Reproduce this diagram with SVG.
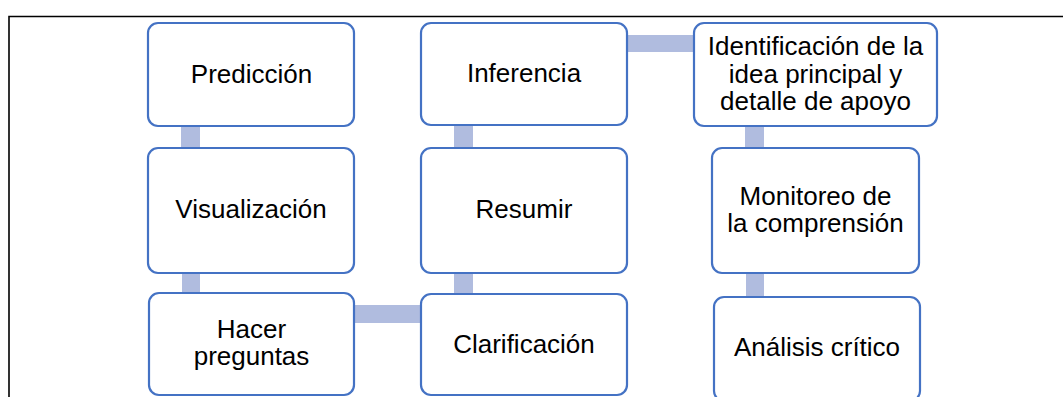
<svg xmlns="http://www.w3.org/2000/svg" width="1063" height="397" viewBox="0 0 1063 397">
<style>
.box{fill:#fff;stroke:#4472C4;stroke-width:2.2}
.lbl{font-family:"Liberation Sans",Arial,sans-serif;font-size:26px;fill:#000;text-anchor:middle}
.conn{fill:#B0BCDF}
.frame{fill:none;stroke:#000;stroke-width:1.6}
</style>
<rect width="1063" height="397" fill="#fff"/>
<path class="frame" d="M9 397 V16.5 H1063"/>
<g id="connectors">
<rect class="conn" x="181" y="125" width="19" height="24"/>
<rect class="conn" x="182" y="272" width="18" height="22"/>
<rect class="conn" x="353" y="305" width="69" height="18"/>
<rect class="conn" x="454" y="272" width="19" height="23"/>
<rect class="conn" x="454" y="124" width="19" height="25"/>
<rect class="conn" x="626" y="35" width="69" height="17"/>
<rect class="conn" x="745" y="125" width="19" height="24"/>
<rect class="conn" x="746" y="272" width="18" height="26"/>
</g>
<g id="prediccion"><rect class="box" x="148" y="23" width="206" height="103" rx="10"/><text class="lbl" x="251.5" y="83">Predicción</text></g>
<g id="inferencia"><rect class="box" x="421" y="23" width="206" height="102" rx="10"/><text class="lbl" x="524" y="82">Inferencia</text></g>
<g id="identificacion"><rect class="box" x="694" y="23" width="243" height="103" rx="10"/><text class="lbl" x="815.5" y="55">Identificación de la</text><text class="lbl" x="815.5" y="83">idea principal y</text><text class="lbl" x="815.5" y="110">detalle de apoyo</text></g>
<g id="visualizacion"><rect class="box" x="148" y="148" width="206" height="125" rx="10"/><text class="lbl" x="251" y="218">Visualización</text></g>
<g id="resumir"><rect class="box" x="421" y="148" width="206" height="125" rx="10"/><text class="lbl" x="524" y="218">Resumir</text></g>
<g id="monitoreo"><rect class="box" x="712" y="148" width="207" height="125" rx="10"/><text class="lbl" x="815.5" y="205">Monitoreo de</text><text class="lbl" x="815.5" y="232">la comprensión</text></g>
<g id="hacer"><rect class="box" x="149" y="293" width="205" height="102" rx="10"/><text class="lbl" x="251.5" y="338">Hacer</text><text class="lbl" x="251.5" y="365">preguntas</text></g>
<g id="clarificacion"><rect class="box" x="421" y="294" width="206" height="101" rx="10"/><text class="lbl" x="524" y="353">Clarificación</text></g>
<g id="analisis"><rect class="box" x="714" y="297" width="206" height="104" rx="10"/><text class="lbl" x="817" y="356">Análisis crítico</text></g>
</svg>
